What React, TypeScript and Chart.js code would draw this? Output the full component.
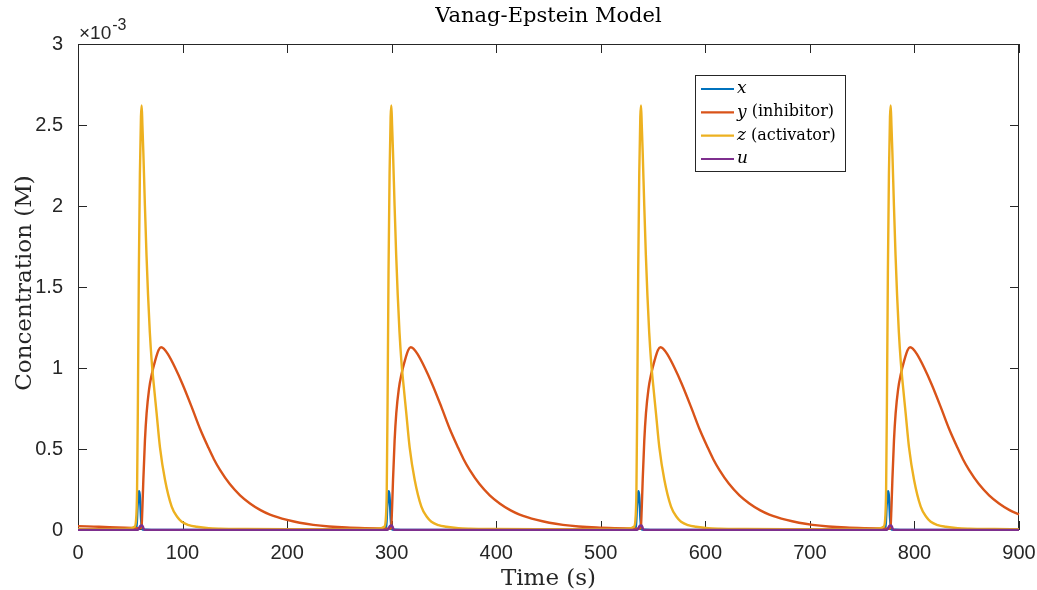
import React, { useEffect, useRef } from "react";
import { Chart, registerables } from "chart.js";

Chart.register(...registerables);

// Values in units of 10^-3 M, time in seconds: [time, value]
const X_ACT: [number, number][] = [
  [0, 0.001], [50, 0.001], [55.5, 0.005], [56.3, 0.05], [57, 0.15], [57.8, 0.22], [58.4, 0.24], [59, 0.22], [59.7, 0.15], [60.3, 0.07], [61, 0.02], [62, 0.003], [70, 0.001],
  [288.8, 0.001], [294.3, 0.005], [295.1, 0.05], [295.8, 0.15], [296.6, 0.22], [297.2, 0.24], [297.8, 0.22], [298.5, 0.15], [299.1, 0.07], [299.8, 0.02], [300.8, 0.003], [308.8, 0.001],
  [527.6, 0.001], [533.1, 0.005], [533.9, 0.05], [534.6, 0.15], [535.4, 0.22], [536, 0.24], [536.6, 0.22], [537.3, 0.15], [537.9, 0.07], [538.6, 0.02], [539.6, 0.003], [547.6, 0.001],
  [766.4, 0.001], [771.9, 0.005], [772.7, 0.05], [773.4, 0.15], [774.2, 0.22], [774.8, 0.24], [775.4, 0.22], [776.1, 0.15], [776.7, 0.07], [777.4, 0.02], [778.4, 0.003], [786.4, 0.001], [900, 0.001],
];

const Y_INHIBITOR: [number, number][] = [
  [0, 0.024], [15, 0.021], [30, 0.018], [45, 0.014], [55, 0.012], [60, 0.011], [60.8, 0.02], [61.5, 0.12], [62.5, 0.31], [64, 0.55], [65.6, 0.72], [68, 0.87], [70.5, 0.96], [74, 1.05], [77, 1.11], [79.4, 1.128], [82, 1.12], [86, 1.085], [93, 1.0], [100, 0.9], [108.7, 0.76], [116.7, 0.625], [124.6, 0.51], [130, 0.437], [135.8, 0.371], [145, 0.285], [155, 0.214], [164.5, 0.164], [175, 0.121], [183.6, 0.095], [200, 0.062], [212, 0.045], [225, 0.032], [240, 0.022], [257, 0.015], [275, 0.011], [290, 0.009],
  [298.8, 0.008], [299.6, 0.02], [300.3, 0.12], [301.3, 0.31], [302.8, 0.55], [304.4, 0.72], [306.8, 0.87], [309.3, 0.96], [312.8, 1.05], [315.8, 1.11], [318.2, 1.128], [320.8, 1.12], [324.8, 1.085], [331.8, 1.0], [338.8, 0.9], [347.5, 0.76], [355.5, 0.625], [363.4, 0.51], [368.8, 0.437], [374.6, 0.371], [383.8, 0.285], [393.8, 0.214], [403.3, 0.164], [413.8, 0.121], [422.4, 0.095], [438.8, 0.062], [450.8, 0.045], [463.8, 0.032], [478.8, 0.022], [495.8, 0.015], [513.8, 0.011], [528.8, 0.009],
  [537.6, 0.008], [538.4, 0.02], [539.1, 0.12], [540.1, 0.31], [541.6, 0.55], [543.2, 0.72], [545.6, 0.87], [548.1, 0.96], [551.6, 1.05], [554.6, 1.11], [557, 1.128], [559.6, 1.12], [563.6, 1.085], [570.6, 1.0], [577.6, 0.9], [586.3, 0.76], [594.3, 0.625], [602.2, 0.51], [607.6, 0.437], [613.4, 0.371], [622.6, 0.285], [632.6, 0.214], [642.1, 0.164], [652.6, 0.121], [661.2, 0.095], [677.6, 0.062], [689.6, 0.045], [702.6, 0.032], [717.6, 0.022], [734.6, 0.015], [752.6, 0.011], [767.6, 0.009],
  [776.4, 0.008], [777.2, 0.02], [777.9, 0.12], [778.9, 0.31], [780.4, 0.55], [782, 0.72], [784.4, 0.87], [786.9, 0.96], [790.4, 1.05], [793.4, 1.11], [795.8, 1.128], [798.4, 1.12], [802.4, 1.085], [809.4, 1.0], [816.4, 0.9], [825.1, 0.76], [833.1, 0.625], [841, 0.51], [846.4, 0.437], [852.2, 0.371], [861.4, 0.285], [871.4, 0.214], [880.9, 0.164], [891.4, 0.121], [900, 0.097],
];

const Z_ACTIVATOR: [number, number][] = [
  [0, 0.006], [20, 0.005], [40, 0.006], [50, 0.01], [54, 0.02], [55.5, 0.06], [56.5, 0.25], [57.3, 0.8], [58.2, 1.6], [59.2, 2.2], [60.2, 2.55], [60.9, 2.62], [61.6, 2.5], [62.5, 2.33], [64, 2.0], [65.5, 1.7], [67, 1.45], [68.7, 1.22], [70.5, 1.04], [72, 0.93], [75.2, 0.72], [78.4, 0.51], [83.2, 0.31], [89.6, 0.144], [95, 0.08], [99.2, 0.051], [106, 0.03], [113.5, 0.02], [125, 0.011], [136, 0.008], [160, 0.006], [200, 0.005], [240, 0.005], [280, 0.006],
  [288.8, 0.01], [292.8, 0.02], [294.3, 0.06], [295.3, 0.25], [296.1, 0.8], [297, 1.6], [298, 2.2], [299, 2.55], [299.7, 2.62], [300.4, 2.5], [301.3, 2.33], [302.8, 2.0], [304.3, 1.7], [305.8, 1.45], [307.5, 1.22], [309.3, 1.04], [310.8, 0.93], [314, 0.72], [317.2, 0.51], [322, 0.31], [328.4, 0.144], [333.8, 0.08], [338, 0.051], [344.8, 0.03], [352.3, 0.02], [363.8, 0.011], [374.8, 0.008], [398.8, 0.006], [438.8, 0.005], [478.8, 0.005], [518.8, 0.006],
  [527.6, 0.01], [531.6, 0.02], [533.1, 0.06], [534.1, 0.25], [534.9, 0.8], [535.8, 1.6], [536.8, 2.2], [537.8, 2.55], [538.5, 2.62], [539.2, 2.5], [540.1, 2.33], [541.6, 2.0], [543.1, 1.7], [544.6, 1.45], [546.3, 1.22], [548.1, 1.04], [549.6, 0.93], [552.8, 0.72], [556, 0.51], [560.8, 0.31], [567.2, 0.144], [572.6, 0.08], [576.8, 0.051], [583.6, 0.03], [591.1, 0.02], [602.6, 0.011], [613.6, 0.008], [637.6, 0.006], [677.6, 0.005], [717.6, 0.005], [757.6, 0.006],
  [766.4, 0.01], [770.4, 0.02], [771.9, 0.06], [772.9, 0.25], [773.7, 0.8], [774.6, 1.6], [775.6, 2.2], [776.6, 2.55], [777.3, 2.62], [778, 2.5], [778.9, 2.33], [780.4, 2.0], [781.9, 1.7], [783.4, 1.45], [785.1, 1.22], [786.9, 1.04], [788.4, 0.93], [791.6, 0.72], [794.8, 0.51], [799.6, 0.31], [806, 0.144], [811.4, 0.08], [815.6, 0.051], [822.4, 0.03], [829.9, 0.02], [841.4, 0.011], [852.4, 0.008], [876.4, 0.006], [900, 0.005],
];

const U_VAR: [number, number][] = [
  [0, 0.0005], [57, 0.001], [58, 0.006], [59, 0.02], [60, 0.027], [61.3, 0.028], [62.2, 0.018], [63, 0.005], [64, 0.001],
  [295.8, 0.001], [296.8, 0.006], [297.8, 0.02], [298.8, 0.027], [300.1, 0.028], [301, 0.018], [301.8, 0.005], [302.8, 0.001],
  [534.6, 0.001], [535.6, 0.006], [536.6, 0.02], [537.6, 0.027], [538.9, 0.028], [539.8, 0.018], [540.6, 0.005], [541.6, 0.001],
  [773.4, 0.001], [774.4, 0.006], [775.4, 0.02], [776.4, 0.027], [777.7, 0.028], [778.6, 0.018], [779.4, 0.005], [780.4, 0.001], [900, 0.0005],
];

const X_TICKS = [0, 100, 200, 300, 400, 500, 600, 700, 800, 900];
const Y_TICKS = [0, 0.5, 1, 1.5, 2, 2.5, 3];

const SERIES = [
  { name: "x", rest: "", data: X_ACT, color: "#0072BD", order: 4 },
  { name: "y", rest: " (inhibitor)", data: Y_INHIBITOR, color: "#D95319", order: 3 },
  { name: "z", rest: " (activator)", data: Z_ACTIVATOR, color: "#EDB120", order: 2 },
  { name: "u", rest: "", data: U_VAR, color: "#7E2F8E", order: 1 },
];

const AX = "#262626";
const SERIF = '"DejaVu Serif", serif';
const SANS = '"Liberation Sans", Arial, sans-serif';

const decor = {
  id: "decor",
  beforeDatasetsDraw(chart: any) {
    const { ctx, chartArea: a, scales } = chart;
    ctx.save();
    ctx.strokeStyle = AX;
    ctx.lineWidth = 1;
    ctx.strokeRect(Math.round(a.left) + 0.5, Math.round(a.top) + 0.5, Math.round(a.right - a.left) - 1, Math.round(a.bottom - a.top) - 1);
    const L = 9;
    ctx.beginPath();
    for (const v of X_TICKS) {
      const p = Math.round(scales.x.getPixelForValue(v)) + 0.5;
      ctx.moveTo(p, a.bottom);
      ctx.lineTo(p, a.bottom - L);
      ctx.moveTo(p, a.top);
      ctx.lineTo(p, a.top + L);
    }
    for (const v of Y_TICKS) {
      const p = Math.round(scales.y.getPixelForValue(v)) + 0.5;
      ctx.moveTo(a.left, p);
      ctx.lineTo(a.left + L, p);
      ctx.moveTo(a.right, p);
      ctx.lineTo(a.right - L, p);
    }
    ctx.stroke();
    ctx.restore();
  },
  afterDraw(chart: any) {
    const { ctx, chartArea: a } = chart;
    ctx.save();
    ctx.fillStyle = "#000";
    // Title
    ctx.font = `21px ${SERIF}`;
    ctx.textAlign = "center";
    ctx.textBaseline = "alphabetic";
    ctx.fillText("Vanag-Epstein Model", (a.left + a.right) / 2, 22);
    // X axis title
    ctx.fillStyle = AX;
    ctx.font = `23px ${SERIF}`;
    ctx.fillText("Time (s)", (a.left + a.right) / 2, 585);
    // Y axis title
    ctx.save();
    ctx.translate(31, (a.top + a.bottom) / 2 - 4);
    ctx.rotate(-Math.PI / 2);
    ctx.textBaseline = "alphabetic";
    ctx.fillText("Concentration (M)", 0, 0);
    ctx.restore();
    // Exponent
    ctx.textAlign = "left";
    ctx.font = `19px ${SANS}`;
    ctx.fillText("\u00d710", 79, 39);
    const w = ctx.measureText("\u00d710").width;
    ctx.font = `16px ${SANS}`;
    ctx.fillText("-3", 79 + w + 1, 30);
    // Legend
    const bx = 695.5, by = 75.5, bw = 150, bh = 96;
    ctx.fillStyle = "#fff";
    ctx.fillRect(bx, by, bw, bh);
    ctx.strokeStyle = AX;
    ctx.lineWidth = 1;
    ctx.strokeRect(bx, by, bw, bh);
    const rows = [89, 112.3, 135.7, 159];
    SERIES.forEach((s, i) => {
      const yy = rows[i];
      ctx.strokeStyle = s.color;
      ctx.lineWidth = 2.2;
      ctx.beginPath();
      ctx.moveTo(701, yy);
      ctx.lineTo(734, yy);
      ctx.stroke();
      ctx.fillStyle = "#000";
      ctx.textBaseline = "middle";
      ctx.font = `italic 17px ${SERIF}`;
      ctx.fillText(s.name, 737, yy);
      const nw = ctx.measureText(s.name).width;
      if (s.rest) {
        ctx.font = `16px ${SERIF}`;
        ctx.fillText(s.rest, 737 + nw, yy);
      }
    });
    ctx.restore();
  },
};

export default function App() {
  const ref = useRef<HTMLCanvasElement | null>(null);
  useEffect(() => {
    if (!ref.current) return;
    const chart = new Chart(ref.current, {
      type: "line",
      data: {
        datasets: SERIES.map((s) => ({
          label: s.name + s.rest,
          data: s.data.map(([t, v]) => ({ x: t, y: v })),
          borderColor: s.color,
          backgroundColor: s.color,
          borderWidth: 2.4,
          pointRadius: 0,
          fill: false,
          clip: 2,
          cubicInterpolationMode: "monotone" as const,
          order: s.order,
        })),
      },
      options: {
        responsive: false,
        animation: false,
        devicePixelRatio: 1,
        layout: { padding: { top: 44, right: 18, left: 0, bottom: 0 } },
        plugins: { legend: { display: false }, title: { display: false }, tooltip: { enabled: false } },
        scales: {
          x: {
            type: "linear",
            min: 0,
            max: 900,
            grid: { display: false },
            border: { display: false },
            ticks: {
              stepSize: 100,
              autoSkip: false,
              maxRotation: 0,
              padding: 3,
              color: AX,
              font: { family: SANS, size: 20 },
              callback: (v: any) => String(v),
            },
            afterFit: (s: any) => {
              s.height = 60;
              s.paddingLeft = 0;
              s.paddingRight = 0;
            },
          },
          y: {
            type: "linear",
            min: 0,
            max: 3,
            grid: { display: false },
            border: { display: false },
            ticks: {
              stepSize: 0.5,
              padding: 7,
              color: AX,
              font: { family: SANS, size: 20 },
              callback: (v: any) => String(v),
            },
            afterFit: (s: any) => {
              s.width = 78;
              s.paddingTop = 0;
              s.paddingBottom = 0;
            },
          },
        },
      },
      plugins: [decor],
    });
    return () => chart.destroy();
  }, []);
  return (
    <div style={{ position: "fixed", left: 0, top: 0, width: 1037, height: 590, background: "#fff" }}>
      <canvas ref={ref} width={1037} height={590} style={{ display: "block", width: 1037, height: 590 }} />
    </div>
  );
}
